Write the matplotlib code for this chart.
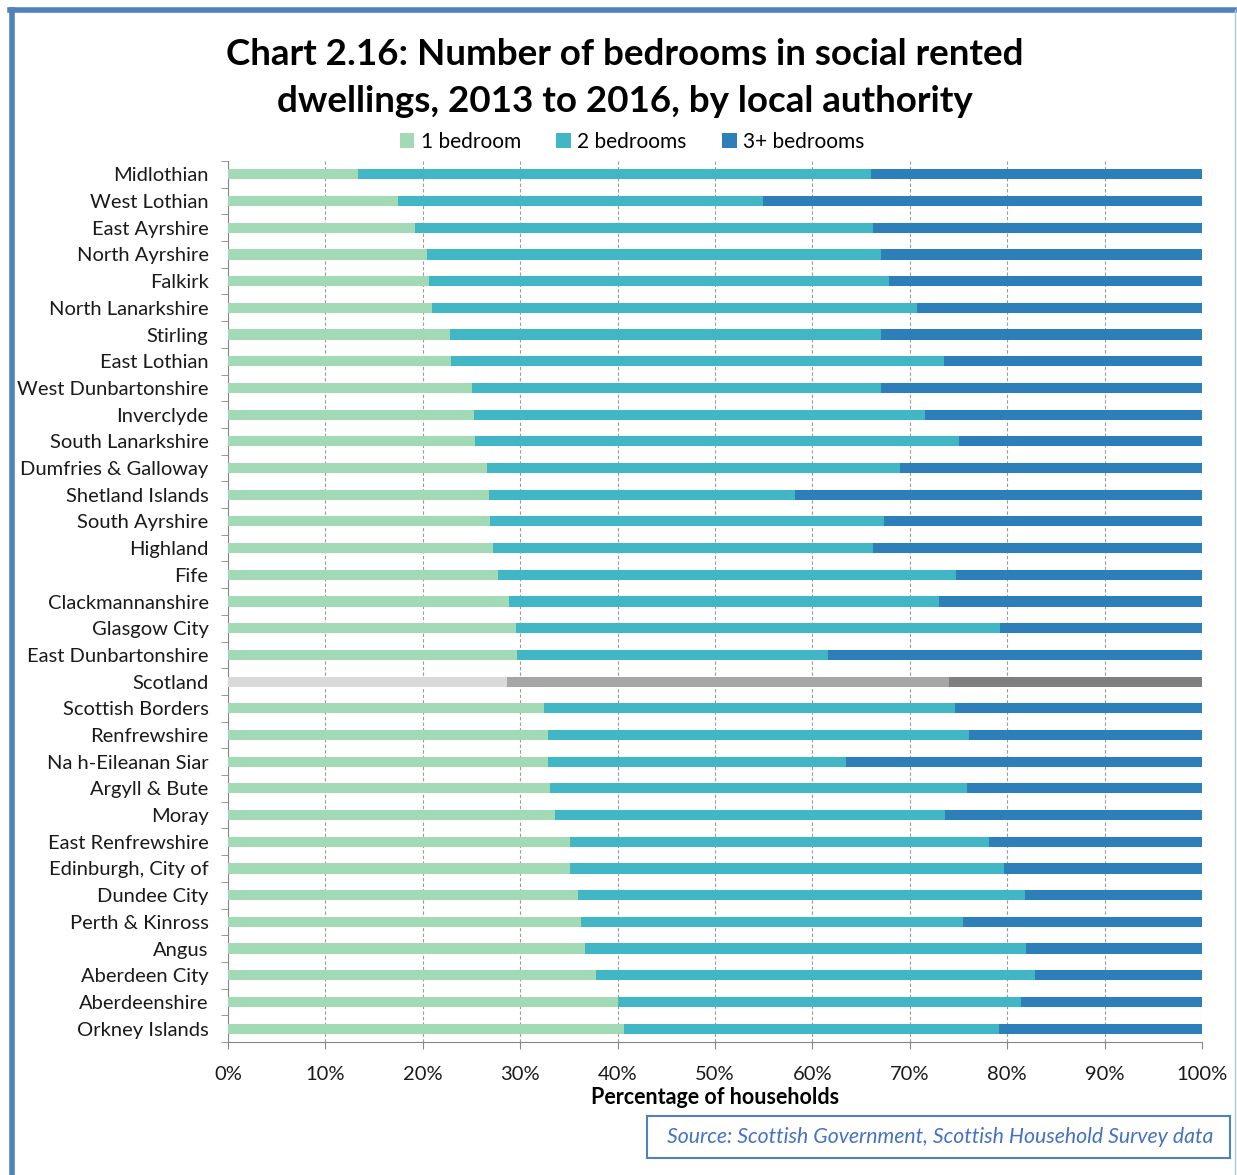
"""Chart 2.16: bedrooms in social rented dwellings by local authority."""

import matplotlib

matplotlib.use("Agg")
import matplotlib.pyplot as plt  # noqa: E402
from matplotlib.lines import Line2D  # noqa: E402
from matplotlib.patches import Patch, Rectangle  # noqa: E402
from matplotlib.ticker import FixedLocator, PercentFormatter  # noqa: E402

plt.rcParams["font.family"] = ["Lato", "DejaVu Sans"]

authorities = [
    "Midlothian", "West Lothian", "East Ayrshire", "North Ayrshire", "Falkirk",
    "North Lanarkshire", "Stirling", "East Lothian", "West Dunbartonshire",
    "Inverclyde", "South Lanarkshire", "Dumfries & Galloway", "Shetland Islands",
    "South Ayrshire", "Highland", "Fife", "Clackmannanshire", "Glasgow City",
    "East Dunbartonshire", "Scotland", "Scottish Borders", "Renfrewshire",
    "Na h-Eileanan Siar", "Argyll & Bute", "Moray", "East Renfrewshire",
    "Edinburgh, City of", "Dundee City", "Perth & Kinross", "Angus",
    "Aberdeen City", "Aberdeenshire", "Orkney Islands",
]
one_bed = [
    13.3, 17.5, 19.2, 20.4, 20.6, 20.9, 22.8, 22.9, 25.1, 25.3, 25.4, 26.6,
    26.8, 26.9, 27.2, 27.7, 28.9, 29.6, 29.7, 28.6, 32.4, 32.9, 32.9, 33.1,
    33.6, 35.1, 35.1, 35.9, 36.2, 36.7, 37.8, 40.0, 40.7,
]
two_bed = [
    52.7, 37.4, 47.0, 46.6, 47.3, 49.8, 44.2, 50.6, 41.9, 46.3, 49.7, 42.4,
    31.4, 40.5, 39.0, 47.0, 44.1, 49.7, 31.9, 45.4, 42.2, 43.2, 30.5, 42.8,
    40.0, 43.0, 44.6, 45.9, 39.3, 45.2, 45.1, 41.4, 38.5,
]
three_bed = [round(100 - a - b, 1) for a, b in zip(one_bed, two_bed)]

series_names = ["1 bedroom", "2 bedrooms", "3+ bedrooms"]
series_colors = ["#a1dab4", "#41b6c4", "#2c7fb8"]
scotland_colors = ["#d9d9d9", "#a6a6a6", "#7f7f7f"]

W, H = 1237, 1175
fig = plt.figure(figsize=(W / 100, H / 100), dpi=100)
ax = fig.add_axes([228 / W, 1 - 1042 / H, (1202 - 228) / W, (1042 - 161) / H])

rows = list(range(len(authorities)))
left = [0.0] * len(authorities)
for values, colour_idx in zip([one_bed, two_bed, three_bed], range(3)):
    colours = [
        scotland_colors[colour_idx] if name == "Scotland" else series_colors[colour_idx]
        for name in authorities
    ]
    ax.barh(rows, values, left=left, height=0.38, color=colours, zorder=3)
    left = [a + b for a, b in zip(left, values)]

ax.set_xlim(0, 100)
ax.set_ylim(len(authorities) - 0.5, -0.5)
ax.xaxis.set_major_locator(FixedLocator(range(0, 101, 10)))
ax.xaxis.set_major_formatter(PercentFormatter(decimals=0))
ax.set_yticks(rows)
ax.set_yticklabels(authorities)
ax.yaxis.set_minor_locator(FixedLocator([r - 0.5 for r in rows] + [len(rows) - 0.5]))
ax.tick_params(axis="y", which="major", length=0, pad=14, labelsize=14.5, labelcolor="#1a1a1a")
ax.tick_params(axis="y", which="minor", length=5, color="#868686", direction="out")
ax.tick_params(axis="x", length=5, color="#868686", labelsize=14.5, pad=12, labelcolor="#1a1a1a")
ax.grid(axis="x", color="#9a9a9a", linestyle=(0, (3, 2)), linewidth=0.8, zorder=0)
for side in ("top", "right"):
    ax.spines[side].set_visible(False)
for side in ("left", "bottom"):
    ax.spines[side].set_color("#868686")
ax.set_xlabel("Percentage of households", fontsize=15.5, fontweight="bold", labelpad=3)

fig.text(625 / W, 1 - 78 / H,
         "Chart 2.16: Number of bedrooms in social rented\ndwellings, 2013 to 2016, by local authority",
         ha="center", va="center", fontsize=26.5, fontweight="bold", linespacing=1.55)

handles = [Patch(facecolor=c) for c in series_colors]
fig.legend(handles, series_names, loc="center", bbox_to_anchor=(632 / W, 1 - 142 / H),
           ncol=3, frameon=False, fontsize=15, handlelength=0.7, handleheight=0.7,
           handletextpad=0.3, columnspacing=1.7)

fig.patches.append(Rectangle((647 / W, 1 - 1158 / H), (1230 - 647) / W, 42 / H,
                             transform=fig.transFigure, fill=False,
                             edgecolor="#4f81bd", linewidth=1.5))
fig.text(940 / W, 1 - 1137 / H, "Source: Scottish Government, Scottish Household Survey data",
         ha="center", va="center", fontsize=15.3, style="italic", color="#4472c4")

# outer frame
fig.lines.append(Line2D([12 / W, 12 / W], [0, 1 - 10 / H], transform=fig.transFigure,
                        color="#4f81bd", linewidth=4))
fig.lines.append(Line2D([10 / W, 1234 / W], [1 - 10 / H, 1 - 10 / H],
                        transform=fig.transFigure, color="#4f81bd", linewidth=4))
fig.lines.append(Line2D([1235 / W, 1235 / W], [0, 1 - 10 / H], transform=fig.transFigure,
                        color="#a9c4e6", linewidth=1))

fig.savefig("out.png", dpi=100)
